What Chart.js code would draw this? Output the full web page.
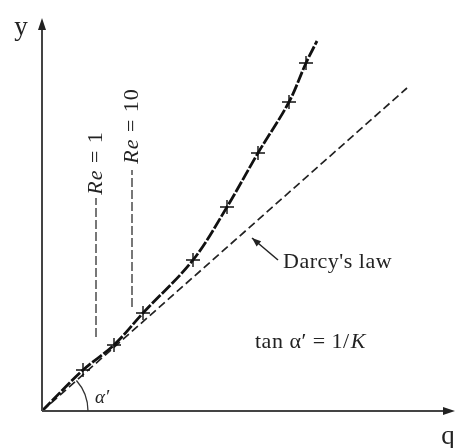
<!DOCTYPE html>
<html lang="en">
<head>
    <meta charset="UTF-8">
    <title>Darcy's law deviation</title>
    <script src="https://cdn.jsdelivr.net/npm/chart.js"></script>
    <style>
        body {
            margin: 0;
            background-color: #ffffff;
        }

        #flowChart {
            display: block;
        }
    </style>
</head>
<body>
    <canvas id="flowChart" width="459" height="448"></canvas>

    <script>
        // measured curve (flow q vs gradient y), origin included
        var curveQ = [0, 4.1, 7.2, 10.1, 15.1, 18.5, 21.6, 24.7, 26.4, 27.5];
        var curveY = [0, 4.1, 6.6, 9.8, 15.1, 20.4, 25.8, 30.9, 34.8, 37.0];

        // "+" marks on the curve
        var markQ = [4.1, 7.2, 10.1, 15.1, 18.5, 21.6, 24.7, 26.4];
        var markY = [4.1, 6.6, 9.8, 15.1, 20.4, 25.8, 30.9, 34.8];

        // Darcy's law straight line
        var darcyQ = [0, 36.5];
        var darcyY = [0, 32.3];

        // Reynolds number limits: x position, bottom and top of dashed line
        var reLabels = ['1', '10'];
        var reQ = [5.4, 9.0];
        var reYLow = [7.4, 10.4];
        var reYHigh = [21.3, 24.1];
        var reTextY = [24.8, 28.5];

        function toPoints(xs, ys) {
            return xs.map(function(x, i) {
                return { x: x, y: ys[i] };
            });
        }

        var serif = '"Liberation Serif", "DejaVu Serif", serif';

        var datasets = [
            {
                label: 'Measured',
                data: toPoints(curveQ, curveY),
                showLine: true,
                borderColor: '#111',
                borderWidth: 2.8,
                borderDash: [12, 2],
                pointRadius: 0,
                tension: 0.35
            },
            {
                label: 'Marks',
                data: toPoints(markQ, markY),
                showLine: false,
                pointStyle: 'cross',
                pointRadius: 7,
                pointBorderWidth: 1.4,
                borderColor: '#111'
            },
            {
                label: "Darcy's law",
                data: toPoints(darcyQ, darcyY),
                showLine: true,
                borderColor: '#222',
                borderWidth: 1.7,
                borderDash: [8, 4],
                pointRadius: 0
            }
        ];

        // Re = 1 and Re = 10 vertical dashed lines
        reQ.forEach(function(q, i) {
            datasets.push({
                label: 'Re ' + reLabels[i],
                data: [{ x: q, y: reYLow[i] }, { x: q, y: reYHigh[i] }],
                showLine: true,
                borderColor: '#777',
                borderWidth: 2,
                borderDash: [9, 3],
                pointRadius: 0
            });
        });

        function arrowHead(ctx, x1, y1, x2, y2, len, wid) {
            var a = Math.atan2(y2 - y1, x2 - x1);
            ctx.beginPath();
            ctx.moveTo(x2, y2);
            ctx.lineTo(x2 - len * Math.cos(a) + wid * Math.sin(a), y2 - len * Math.sin(a) - wid * Math.cos(a));
            ctx.lineTo(x2 - len * Math.cos(a) - wid * Math.sin(a), y2 - len * Math.sin(a) + wid * Math.cos(a));
            ctx.closePath();
            ctx.fill();
        }

        var sketchPlugin = {
            id: 'sketch',
            afterDatasetsDraw: function(chart) {
                var ctx = chart.ctx;
                var xs = chart.scales.x;
                var ys = chart.scales.y;
                var px = function(v) { return xs.getPixelForValue(v); };
                var py = function(v) { return ys.getPixelForValue(v); };

                ctx.save();

                // axes with arrows
                ctx.strokeStyle = '#444';
                ctx.fillStyle = '#222';
                ctx.lineWidth = 2;
                ctx.beginPath();
                ctx.moveTo(px(0), py(0));
                ctx.lineTo(px(40.5), py(0));
                ctx.moveTo(px(0), py(0));
                ctx.lineTo(px(0), py(38.5));
                ctx.stroke();
                arrowHead(ctx, px(0), py(0), px(41.3), py(0), 12, 4);
                arrowHead(ctx, px(0), py(0), px(0), py(39.3), 12, 4);

                // angle arc
                var r = px(4.6) - px(0);
                var ang = Math.atan2(py(darcyY[1]) - py(0), px(darcyQ[1]) - px(0));
                ctx.strokeStyle = '#333';
                ctx.lineWidth = 1.3;
                ctx.beginPath();
                ctx.arc(px(0), py(0), r, ang, 0);
                ctx.stroke();

                // Darcy's law pointer
                ctx.strokeStyle = '#222';
                ctx.lineWidth = 1.5;
                ctx.beginPath();
                ctx.moveTo(px(23.6), py(15.1));
                ctx.lineTo(px(21.0), py(17.3));
                ctx.stroke();
                arrowHead(ctx, px(23.6), py(15.1), px(21.0), py(17.3), 9, 3.5);

                // texts
                ctx.fillStyle = '#222';
                ctx.textBaseline = 'middle';
                ctx.textAlign = 'left';
                ctx.letterSpacing = '0.5px';
                ctx.font = '22px ' + serif;
                ctx.fillText("Darcy's law", px(24.1), py(14.9));

                var tx = px(21.3);
                var ty = py(6.9);
                var part1 = 'tan \u03b1\u2032 = 1/';
                ctx.fillText(part1, tx, ty);
                var w1 = ctx.measureText(part1).width;
                ctx.font = 'italic 22px ' + serif;
                ctx.fillText('K', tx + w1 + 1, ty);

                ctx.letterSpacing = '0px';
                ctx.font = 'italic 19px ' + serif;
                ctx.fillText('\u03b1\u2032', px(5.3), py(1.3));

                ctx.font = '27px ' + serif;
                ctx.textAlign = 'center';
                ctx.fillText('y', px(-2.1), py(38.3));
                ctx.fillText('q', px(40.6), py(-2.6));

                // rotated Re labels
                reQ.forEach(function(q, i) {
                    ctx.save();
                    ctx.translate(px(q), py(reTextY[i]));
                    ctx.rotate(-Math.PI / 2);
                    ctx.letterSpacing = '1px';
                    var a = 'Re';
                    var b = ' = ' + reLabels[i];
                    ctx.font = '22px ' + serif;
                    var wb = ctx.measureText(b).width;
                    ctx.font = 'italic 22px ' + serif;
                    var wa = ctx.measureText(a).width;
                    var start = -(wa + wb) / 2;
                    ctx.textAlign = 'left';
                    ctx.fillText(a, start, 0);
                    ctx.font = '22px ' + serif;
                    ctx.fillText(b, start + wa, 0);
                    ctx.restore();
                });

                ctx.restore();
            }
        };

        var ctx = document.getElementById('flowChart').getContext('2d');
        window.myChart = new Chart(ctx, {
            type: 'scatter',
            data: { datasets: datasets },
            options: {
                responsive: false,
                animation: false,
                layout: { padding: 0, autoPadding: false },
                scales: {
                    x: { type: 'linear', display: false, min: -4.2, max: 41.7 },
                    y: { type: 'linear', display: false, min: -3.7, max: 41.1 }
                },
                plugins: {
                    legend: { display: false },
                    tooltip: { enabled: false }
                }
            },
            plugins: [sketchPlugin]
        });
    </script>
</body>
</html>
